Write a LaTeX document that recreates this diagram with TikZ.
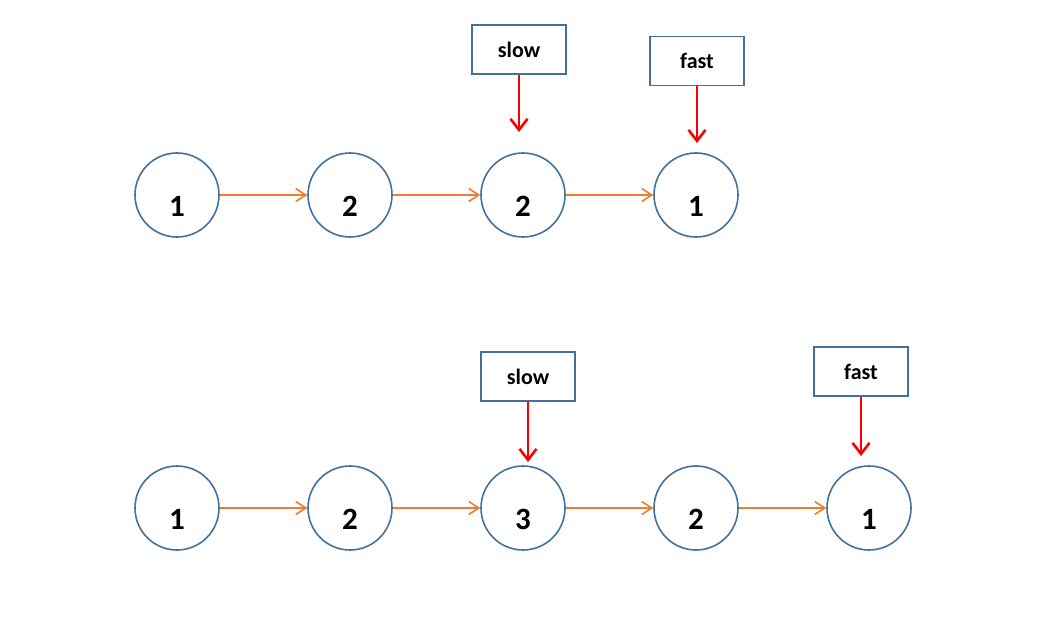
\documentclass[tikz,border=0pt]{standalone}
\usepackage{fontspec}
\setmainfont{Carlito}
\usetikzlibrary{calc,arrows.meta}
\definecolor{ring_blue}{HTML}{41719C}
\definecolor{link_orange}{HTML}{ED7D31}
\definecolor{ptr_red}{HTML}{FF0000}

\begin{document}
\begin{tikzpicture}[x=1pt, y=-1pt,
	ring/.style={circle, draw=ring_blue, line width=1.6pt, minimum size=84pt, inner sep=0pt},
	num/.style={font=\bfseries\fontsize{31}{31}\selectfont},
	ptrbox/.style={draw=ring_blue, line width=1.6pt, minimum width=94pt, minimum height=49pt, inner sep=0pt, font=\bfseries\fontsize{22}{22}\selectfont},
	link/.style={draw=link_orange, line width=1.6pt, -{Straight Barb[length=10pt, width=13pt]}},
	ptr/.style={draw=ptr_red, line width=2.6pt, -{Straight Barb[length=11pt, width=17pt]}}]
	\useasboundingbox (0, 0) rectangle (1039, 628);
	% first list
	\foreach \v [count=\i] in {1, 2, 2, 1} {
		\node[ring] (A\i) at ({177 + 173*(\i-1)}, 195) {};
		\node[num] (A\i n) at ([yshift=-11pt]A\i.center) {\v};
	}
	\foreach \i [evaluate=\i as \j using int(\i+1)] in {1, 2, 3}
		\draw[link] (A\i) -- (A\j);
	\node[ptrbox] (slowA) at (519, 49.5) {slow};
	\node[ptrbox] (fastA) at (697, 61) {fast};
	\coordinate (slowAend) at (519, 132);
	\coordinate (fastAend) at (697, 143);
	\draw[ptr] (slowA) -- (slowAend);
	\draw[ptr] (fastA) -- (fastAend);
	% second list
	\foreach \v [count=\i] in {1, 2, 3, 2, 1} {
		\node[ring] (B\i) at ({177 + 173*(\i-1)}, 508) {};
		\node[num] (B\i n) at ([yshift=-11pt]B\i.center) {\v};
	}
	\foreach \i [evaluate=\i as \j using int(\i+1)] in {1, 2, 3, 4}
		\draw[link] (B\i) -- (B\j);
	\node[ptrbox] (slowB) at (528, 376.5) {slow};
	\node[ptrbox] (fastB) at (861, 371.5) {fast};
	\coordinate (slowBend) at (528, 462);
	\coordinate (fastBend) at (861, 456);
	\draw[ptr] (slowB) -- (slowBend);
	\draw[ptr] (fastB) -- (fastBend);
\end{tikzpicture}
\end{document}
